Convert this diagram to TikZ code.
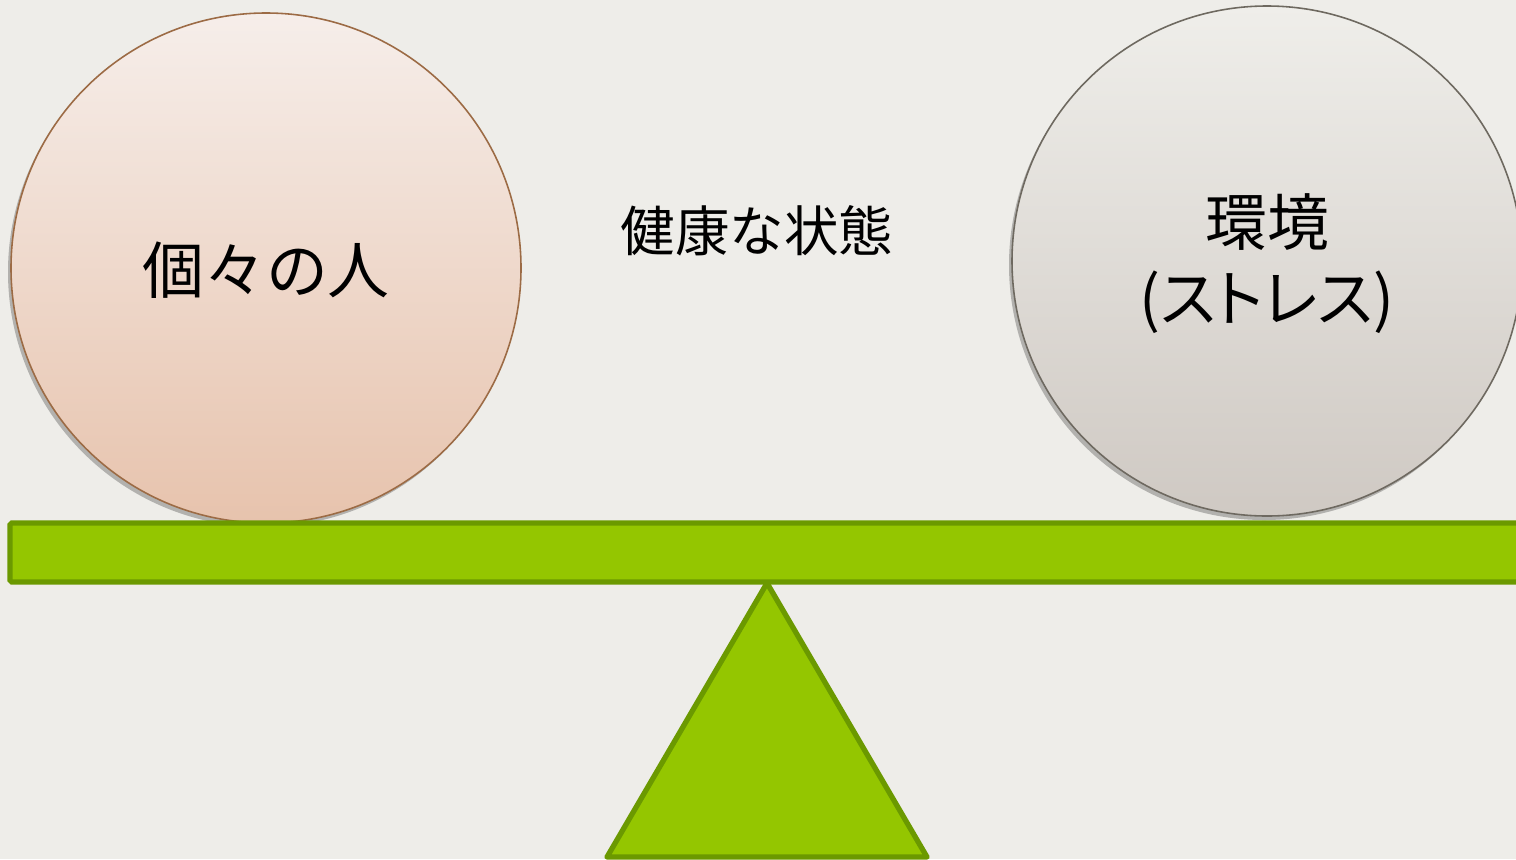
\documentclass[tikz,border=0pt]{standalone}
\usepackage{fontspec}
\setmainfont{Liberation Serif}
\newfontfamily\cjk{Noto Sans CJK JP}
\newfontfamily\cjkp[RawFeature=+palt]{Noto Sans CJK JP}
\usetikzlibrary{shadows}
\definecolor{bg}{HTML}{EEEDE9}
\definecolor{barfill}{HTML}{94C600}
\definecolor{barline}{HTML}{6B9900}
\definecolor{ltop}{HTML}{F6EEEA}
\definecolor{lbot}{HTML}{E7C3AD}
\definecolor{lline}{HTML}{9C6B45}
\definecolor{rtop}{HTML}{EFEEEA}
\definecolor{rbot}{HTML}{CFC9C3}
\definecolor{rline}{HTML}{6E6960}
\tikzset{
  ball/.style={circle, minimum size=5.10cm, inner sep=0pt, line width=0.45pt,
    drop shadow={shadow xshift=-0.03cm, shadow yshift=-0.04cm, opacity=0.25, fill=black}},
  plank/.style={draw=barline, fill=barfill, line width=1.5pt, rounded corners=0.5pt},
  lbl/.style={font=\cjk, text=black, align=center}
}
\begin{document}
\begin{tikzpicture}[x=1cm,y=1cm]
\fill[bg] (0,0) rectangle (15.16,8.59);
\useasboundingbox (0,0) rectangle (15.16,8.59);
% circles
\node[ball, draw=lline, top color=ltop, bottom color=lbot] (left) at (2.66,5.91) {};
\node[ball, draw=rline, top color=rtop, bottom color=rbot] (right) at (12.67,5.98) {};
% plank
\draw[plank] (0.10,2.77) rectangle (15.40,3.36);
% fulcrum
\coordinate (apex) at (7.67,2.76);
\coordinate (bl) at (6.07,0.02);
\coordinate (br) at (9.27,0.02);
\draw[draw=barline, fill=barfill, line width=1.5pt, line join=round] (apex) -- (bl) -- (br) -- cycle;
% texts
\node[lbl, font=\cjk\fontsize{17.6}{20}\selectfont] (t1) at (2.66,5.89) {個々の人};
\node[lbl, font=\cjk\fontsize{15.5}{18}\selectfont] (t2) at (7.57,6.28) {健康な状態};
\node[lbl, font=\cjk\fontsize{17.6}{21.6}\selectfont] (t3) at (12.67,5.95) {環境\\{\cjkp(ストレス)}};
\end{tikzpicture}
\end{document}
